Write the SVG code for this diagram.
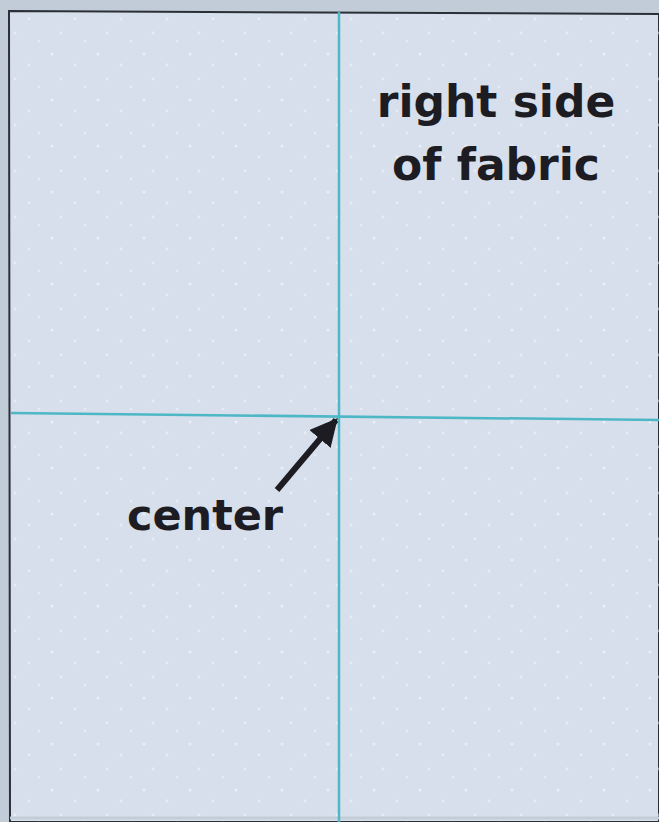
<svg xmlns="http://www.w3.org/2000/svg" width="659" height="822" viewBox="0 0 659 822">
<defs>
<style>
.guide{stroke:#4db7c6;stroke-width:2.5;fill:none}
.lbl{font-family:"DejaVu Sans","Liberation Sans",sans-serif;font-weight:bold;fill:#1c1c22}
</style>
<pattern id="dots" width="46" height="46" patternUnits="userSpaceOnUse">
<circle cx="6" cy="8" r="1.5" fill="#ffffff" opacity="0.5"/>
<circle cx="29" cy="19" r="1.4" fill="#ffffff" opacity="0.45"/>
<circle cx="15" cy="33" r="1.4" fill="#ffffff" opacity="0.45"/>
<circle cx="39" cy="41" r="1.3" fill="#ffffff" opacity="0.4"/>
</pattern>
<marker id="ah" viewBox="0 0 10 10" refX="9" refY="5" markerWidth="4.6" markerHeight="4.6" orient="auto">
<path d="M0,0 L10,5 L0,10 z" fill="#1c1c22"/>
</marker>
</defs>
<rect x="0" y="0" width="659" height="822" fill="#c2cbd8"/>
<g id="fabric">
<path d="M9,11 L659,14 L659,822 L10,822 Z" fill="#d6dfeb" stroke="#2a2f38" stroke-width="2"/>
<path d="M9,11 L659,14 L659,822 L10,822 Z" fill="url(#dots)"/>
<line x1="10" y1="818" x2="659" y2="818" stroke="#c4ccd8" stroke-width="3"/>
</g>
<g id="guides">
<line class="guide" x1="339" y1="12" x2="339" y2="822"/>
<line class="guide" x1="11" y1="413" x2="659" y2="420"/>
</g>
<g id="connectors">
<line x1="277" y1="490" x2="336" y2="420" stroke="#1c1c22" stroke-width="6" marker-end="url(#ah)"/>
</g>
<g id="label-right-side">
<text class="lbl" x="496" y="117" font-size="44" text-anchor="middle">right side</text>
<text class="lbl" x="496" y="180" font-size="44" text-anchor="middle">of fabric</text>
</g>
<g id="label-center">
<text class="lbl" x="205" y="530" font-size="43" text-anchor="middle">center</text>
</g>
</svg>
